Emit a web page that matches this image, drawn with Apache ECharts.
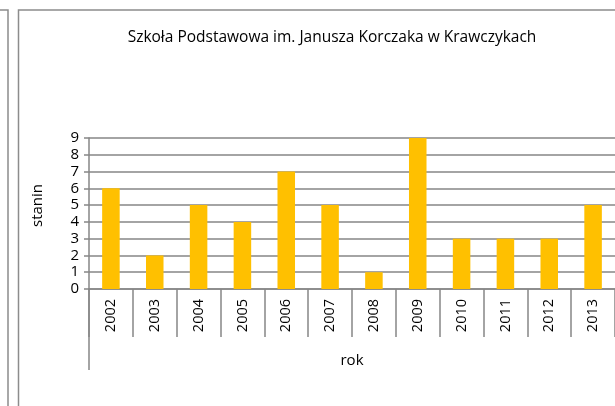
<!DOCTYPE html>
<html>
<head>
<meta charset="utf-8">
<script src="https://cdn.jsdelivr.net/npm/echarts@6/dist/echarts.min.js"></script>
<style>
html,body{margin:0;padding:0;background:#fff;}
#c{width:615px;height:406px;}
</style>
</head>
<body>
<div id="c"></div>
<script>
const years = ['2002','2003','2004','2005','2006','2007','2008','2009','2010','2011','2012','2013'];
const stanin = [6,2,5,4,7,5,1,9,3,3,3,5];
const titleText = 'Szkoła Podstawowa im. Janusza Korczaka w Krawczykach';
const yName = 'stanin';
const xName = 'rok';

const FONT = 'Open Sans';
const chart = echarts.init(document.getElementById('c'), null, {renderer:'canvas'});
const border = '#8c8c8c';
const axisCol = '#868686';
chart.setOption({
  animation:false,
  backgroundColor:'#ffffff',
  title:{
    text:titleText,
    left:327, top:25,
    textAlign:'center',
    textStyle:{fontFamily:FONT,fontSize:15.5,fontWeight:'normal',color:'#000'}
  },
  grid:{left:89, top:138, width:529, height:151, containLabel:false},
  xAxis:{
    type:'category',
    data:years,
    name:xName,
    nameLocation:'middle',
    nameGap:64,
    nameTextStyle:{fontFamily:FONT,fontSize:15,color:'#000'},
    axisLine:{show:true,lineStyle:{color:axisCol,width:1.5}},
    axisTick:{show:true,interval:0,length:48,alignWithLabel:false,lineStyle:{color:axisCol,width:1.5}},
    axisLabel:{interval:0,rotate:90,margin:10,fontFamily:FONT,fontSize:14.5,color:'#000'},
    splitLine:{show:false}
  },
  yAxis:{
    type:'value',
    min:0,max:9,interval:1,
    name:yName,
    nameLocation:'middle',
    nameGap:44,
    nameRotate:90,
    nameTextStyle:{fontFamily:FONT,fontSize:15,color:'#000',padding:[0,0,0,16]},
    axisLine:{show:true,lineStyle:{color:axisCol,width:1.5}},
    axisTick:{show:true,inside:false,length:5,lineStyle:{color:axisCol,width:1.5}},
    axisLabel:{margin:10,fontFamily:FONT,fontSize:15,color:'#000'},
    splitLine:{show:true,lineStyle:{color:axisCol,width:1.5}}
  },
  series:[{
    type:'bar',
    data:stanin,
    barWidth:'40%',
    itemStyle:{color:'#FFC000'}
  }],
  graphic:[
    {type:'polyline',silent:true,shape:{points:[[0,10],[8,10],[8,406]]},style:{stroke:border,lineWidth:1.5,fill:null}},
    {type:'polyline',silent:true,shape:{points:[[18.5,406],[18.5,10],[615,10]]},style:{stroke:border,lineWidth:1.5,fill:null}},
    {type:'line',silent:true,shape:{x1:89,y1:289,x2:89,y2:370},style:{stroke:axisCol,lineWidth:1.5}}
  ]
});
</script>
</body>
</html>
